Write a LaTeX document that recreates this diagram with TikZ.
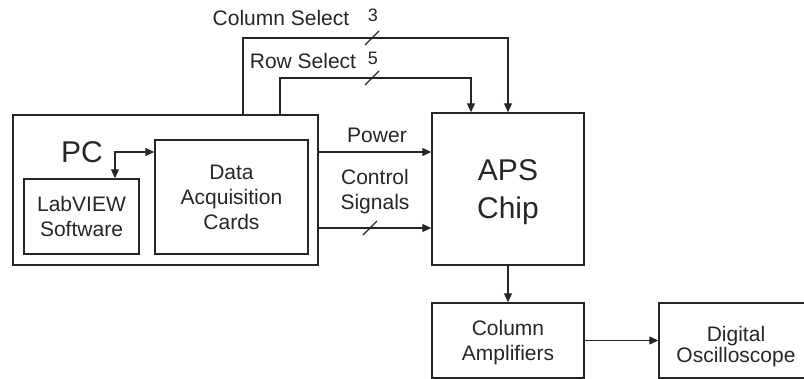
\documentclass[tikz,border=0pt]{standalone}
\usepackage{fontspec}
\setmainfont{Liberation Sans}
\usetikzlibrary{arrows.meta}
\definecolor{ink}{HTML}{262626}
\tikzset{
  box/.style={draw=ink, line width=1.5pt, text=ink, align=center, text depth=0pt, font=\fontsize{21}{25}\selectfont},
  lbl/.style={text=ink, align=center, text depth=0pt, inner sep=0pt, font=\fontsize{21}{25}\selectfont},
  sig/.style={draw=ink, line width=1.3pt, -{Triangle[length=9pt,width=8pt]}},
  bus/.style={draw=ink, line width=1.3pt}
}

\begin{document}
\begin{tikzpicture}[x=1pt,y=-1pt]
\useasboundingbox (0,0) rectangle (804,378);

% PC and its cards
\node[box, minimum width=305pt, minimum height=150pt] (pc) at (165.5,190) {};
\node[lbl, font=\fontsize{30}{36}\selectfont] (pclbl) at (82,152) {PC};
\node[box, minimum width=115pt, minimum height=75pt] (lab) at (81.5,216.5) {LabVIEW\\Software};
\node[box, minimum width=153pt, minimum height=114pt] (daq) at (231.5,197) {Data\\Acquisition\\Cards};

% Chip and read-out
\node[box, minimum width=152pt, minimum height=152pt, font=\fontsize{30}{38}\selectfont] (aps) at (508,189) {APS\\Chip};
\node[box, minimum width=152pt, minimum height=75pt] (amp) at (508,340.5) {Column\\Amplifiers};
\node[box, minimum width=154pt, minimum height=75pt, text height=43pt, font=\fontsize{21}{19}\selectfont] (osc) at (736,340.5) {Digital\\Oscilloscope};

% Corners of the connectors
\coordinate (cs) at (243,38);
\coordinate (rs) at (280,78);
\coordinate (lk) at (115,152);
\coordinate (pw) at (0,152);
\coordinate (ct) at (0,228);

% Select lines
\draw[sig] (pc.north -| cs) -- (cs) -| (aps.north);
\draw[sig] (pc.north -| rs) -- (rs) -| ([xshift=-37pt]aps.north);
\node[lbl] (cslbl) at (281,18) {Column Select};
\node[lbl, font=\fontsize{18}{22}\selectfont] (csnum) at (373,15) {3};
\node[lbl] (rslbl) at (303,61) {Row Select};
\node[lbl, font=\fontsize{18}{22}\selectfont] (rsnum) at (373,58) {5};

% Software to cards
\draw[sig, {Triangle[length=9pt,width=8pt]}-{Triangle[length=9pt,width=8pt]}] (lab.north -| lk) -- (lk) -- (lk -| daq.west);

% Power and control
\draw[sig] (pc.east |- pw) -- (aps.west |- pw);
\draw[sig] (pc.east |- ct) -- (aps.west |- ct);
\node[lbl] (pwlbl) at (377,135) {Power};
\node[lbl] (ctlbl) at (375,189) {Control\\Signals};

% Bus width marks
\foreach \p in {(372,38),(372,78),(370,228)}
  \draw[bus] \p ++(-7,7) -- ++(14,-14);

% Read-out path
\draw[sig] (aps) -- (amp);
\draw[sig] (amp) -- (osc);

\end{tikzpicture}
\end{document}
